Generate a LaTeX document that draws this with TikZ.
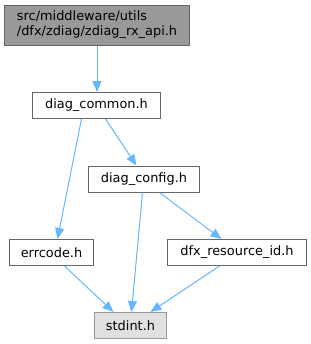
\documentclass[tikz,border=0pt]{standalone}
\usepackage{fontspec}
\setmainfont{DejaVu Sans}
\usetikzlibrary{arrows.meta}
\definecolor{edgeblue}{HTML}{63B8FF}
\definecolor{boxborder}{HTML}{666666}
\definecolor{topfill}{HTML}{999999}
\definecolor{sysfill}{HTML}{E0E0E0}
\definecolor{sysborder}{HTML}{999999}
\begin{document}
\begin{tikzpicture}[x=1bp,y=-1bp,
  filebox/.style={draw=boxborder,fill=white,line width=1bp,inner sep=0pt,minimum height=26bp,
    font=\fontsize{12.9bp}{15bp}\selectfont,text=black},
  rootbox/.style={filebox,fill=topfill,minimum height=40bp,align=left},
  sysbox/.style={filebox,fill=sysfill,draw=sysborder},
  dep/.style={draw=edgeblue,line width=1bp,-{Triangle[length=11bp,width=9bp,fill=edgeblue]}}]
\useasboundingbox (0,0) rectangle (311,344);
\node[rootbox,minimum width=184bp] (top) at (97,25) {src/middleware/utils\\/dfx/zdiag/zdiag\_rx\_api.h};
\node[filebox,minimum width=127bp] (common) at (96.5,105.5) {diag\_common.h};
\node[filebox,minimum width=110bp] (config) at (144,179) {diag\_config.h};
\node[filebox,minimum width=83bp] (errcode) at (51.5,252.5) {errcode.h};
\node[filebox,minimum width=138bp] (dfx) at (237,252.5) {dfx\_resource\_id.h};
\node[sysbox,minimum width=71bp] (stdint) at (130.5,325.5) {stdint.h};
\draw[dep] (top.south) -- (top.south |- common.north);
\draw[dep] ([xshift=49bp]common.south west) -- ([xshift=48bp]errcode.north west);
\draw[dep] ([xshift=73bp]common.south west) -- ([xshift=48bp]config.north west);
\draw[dep] ([xshift=54bp]config.south west) -- ([xshift=37bp]stdint.north west);
\draw[dep] ([xshift=71bp]config.south west) -- ([xshift=54bp]dfx.north west);
\draw[dep] ([xshift=55bp]errcode.south west) -- ([xshift=19bp]stdint.north west);
\draw[dep] ([xshift=52bp]dfx.south west) -- ([xshift=56bp]stdint.north west);
\end{tikzpicture}
\end{document}
